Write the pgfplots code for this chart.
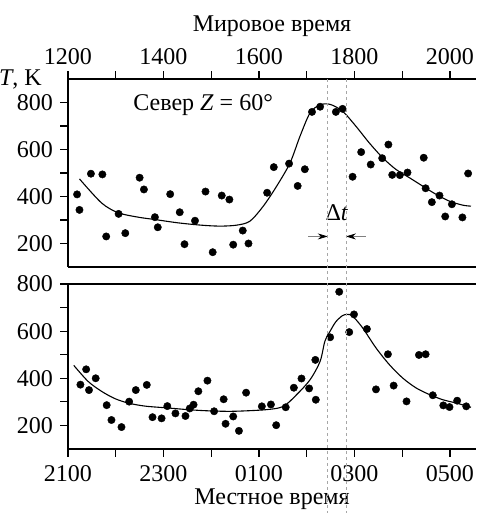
\documentclass[border=0pt]{standalone}
\usepackage{fontspec}
\setmainfont{Liberation Serif}
\usepackage{pgfplots}
\pgfplotsset{compat=1.18}
\usetikzlibrary{arrows.meta}

\pgfplotstableread{
x y
12.19 409
12.24 343
12.48 497
12.72 494
12.80 230
13.06 326
13.20 244
13.50 480
13.59 430
13.82 312
13.88 269
14.14 410
14.34 333
14.44 197
14.66 297
14.88 421
15.03 163
15.22 404
15.38 387
15.46 195
15.66 255
15.78 200
16.17 416
16.31 525
16.63 540
16.81 445
16.96 516
17.11 760
17.28 782
17.61 760
17.75 773
17.96 484
18.14 589
18.34 536
18.58 563
18.71 621
18.79 492
18.95 491
19.11 502
19.45 565
19.49 435
19.62 376
19.78 404
19.90 315
20.04 367
20.26 311
20.38 498
}\toppts

\pgfplotstableread{
x y
12.24 475
12.70 373
13.05 331
13.47 312
13.82 302
14.30 288
14.79 278
15.18 274
15.53 278
15.81 295
16.09 359
16.37 444
16.65 543
16.86 657
17.07 756
17.28 790
17.49 792
17.75 763
18.03 699
18.31 628
18.59 565
18.87 515
19.15 480
19.43 444
19.71 409
19.99 380
20.27 363
20.44 359
}\topfit

\pgfplotstableread{
x y
12.26 373
12.38 438
12.44 350
12.58 400
12.81 286
12.91 223
13.12 193
13.28 301
13.42 350
13.65 372
13.77 235
13.96 230
14.08 282
14.25 251
14.46 240
14.55 272
14.63 288
14.73 345
14.92 390
15.06 260
15.26 311
15.30 207
15.46 238
15.58 177
15.73 339
16.06 281
16.25 289
16.36 201
16.56 277
16.73 360
16.89 399
17.05 357
17.19 309
17.18 478
17.49 574
17.68 767
17.89 596
17.99 671
18.26 609
18.45 353
18.70 502
18.82 369
19.09 302
19.35 499
19.49 502
19.64 328
19.86 285
19.99 278
20.15 305
20.34 281
}\botpts

\pgfplotstableread{
x y
12.12 455
12.42 387
12.70 345
12.98 314
13.26 295
13.61 282
14.10 274
14.51 267
14.93 262
15.46 260
16.16 267
16.51 281
16.79 331
17.07 394
17.28 472
17.38 557
17.49 600
17.61 640
17.75 666
17.85 671
17.96 664
18.17 614
18.45 529
18.73 458
19.01 401
19.29 359
19.57 331
19.85 309
20.13 295
20.44 277
}\botfit

\begin{document}
\fontsize{24}{28}\selectfont
\begin{tikzpicture}
\path[use as bounding box] (0pt,0pt) rectangle (476pt,513pt);
\pgfplotsset{
  every axis/.append style={
    scale only axis, width=408pt, xmin=12, xmax=20.545,
    axis line style={line width=1.2pt, black},
    tick align=outside, major tick length=8pt, minor tick length=8pt,
    tick style={line width=1.2pt, black},
    xtick={12,...,20},
    clip mode=individual,
    /pgf/number format/assume math mode=true,
    tick label style={font=\fontsize{24}{28}\selectfont},
    label style={font=\fontsize{24}{28}\selectfont},
  }
}
\begin{axis}[at={(68pt,246pt)}, anchor=south west, height=188pt,
  ymin=100, ymax=900,
  axis x line*=top, axis y line*=left,
  xticklabels={1200,,1400,,1600,,1800,,2000},
  ytick={200,300,...,800}, yticklabels={200,,400,,600,,800},
  xlabel={Мировое время},
  xticklabel style={yshift=-2pt},
  xlabel style={yshift=-4pt},
  yticklabel style={xshift=1pt},
]
\draw[line width=1.2pt] (rel axis cs:0,0) -- (rel axis cs:1,0);
\addplot[only marks, mark=*, mark size=3.7pt, black] table {\toppts};
\addplot[smooth, black, line width=1.1pt] table {\topfit};
\node[anchor=base] at (axis cs:14.83,766) {Север \textit{Z} = 60°};
\node[anchor=base] at (axis cs:17.63,298) {Δ\textit{t}};
\draw[gray, line width=0.7pt, -{Stealth[length=10pt,width=6pt,black]}] (axis cs:17.03,230) -- (axis cs:17.44,230);
\draw[gray, line width=0.7pt, -{Stealth[length=10pt,width=6pt,black]}] (axis cs:18.24,230) -- (axis cs:17.82,230);
\coordinate (d1) at (axis cs:17.44,900);
\coordinate (d2) at (axis cs:17.82,900);
\coordinate (tl) at (rel axis cs:0,1);
\end{axis}
\node[anchor=base east] at ([xshift=-18pt,yshift=-6pt]tl) {\textit{T}, K};
\begin{axis}[at={(68pt,64pt)}, anchor=south west, height=165pt,
  ymin=100, ymax=800,
  axis x line*=bottom, axis y line*=left,
  xticklabels={2100,,2300,,0100,,0300,,0500},
  ytick={200,300,...,800}, yticklabels={200,,400,,600,,800},
  xlabel={Местное время},
  xlabel style={inner sep=0pt, yshift=1pt},
  yticklabel style={xshift=1pt},
]
\draw[line width=1.2pt] (rel axis cs:0,1) -- (rel axis cs:1,1);
\addplot[only marks, mark=*, mark size=3.7pt, black] table {\botpts};
\addplot[smooth, black, line width=1.1pt] table {\botfit};
\end{axis}
\draw[gray!70, dashed, line width=0.6pt] (d1) -- (d1 |- 0,0);
\draw[gray!70, dashed, line width=0.6pt] (d2) -- (d2 |- 0,0);
\end{tikzpicture}
\end{document}
